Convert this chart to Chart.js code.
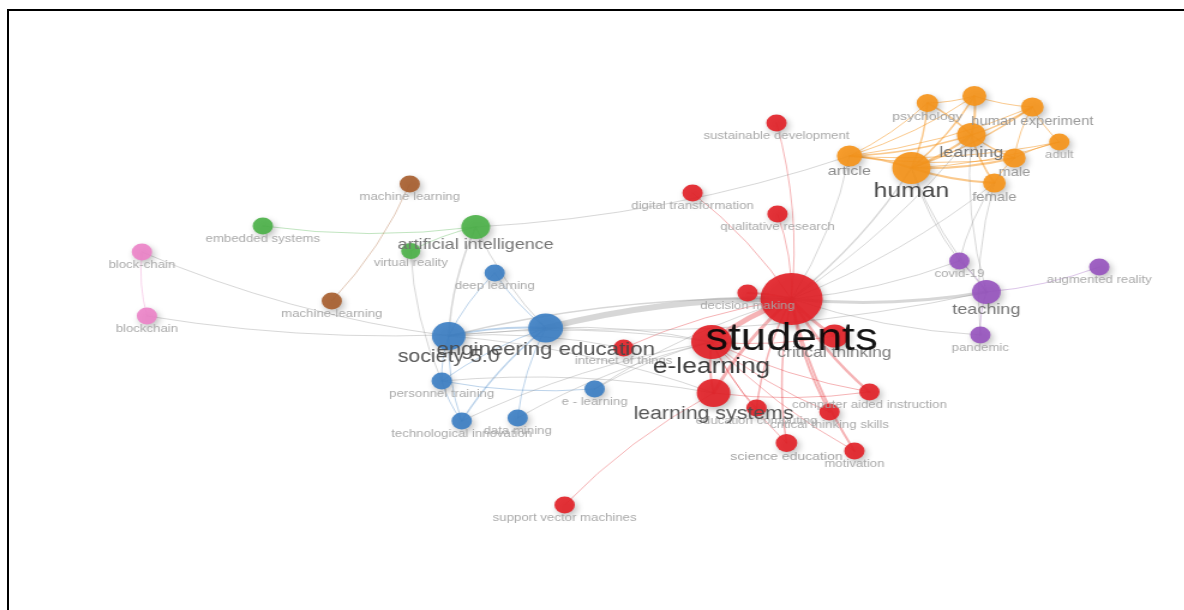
<!DOCTYPE html>
<html>
<head>
<meta charset="utf-8">
<script src="https://cdn.jsdelivr.net/npm/chart.js@4/dist/chart.umd.min.js"></script>
<style>
  html, body { margin: 0; padding: 0; background: #fff; width: 1184px; height: 610px; overflow: hidden; position: relative; }
  #frame { position: absolute; left: 7px; top: 9px; width: 1200px; height: 620px; border-top: 2px solid #000; border-left: 2px solid #000; }
  /* the map is drawn on a narrower canvas and widened, giving the oval nodes and wide lettering */
  #wrap { position: absolute; left: 0; top: 0; width: 986px; height: 610px; transform: scaleX(1.2); transform-origin: 0 0; }
</style>
</head>
<body>
<div id="frame"></div>
<div id="wrap"><canvas id="map"></canvas></div>
<script>
// ---- keyword co-occurrence network ----
const keywords = [
  'students', 'e-learning', 'learning systems', 'critical thinking', 'decision making',
  'education computing', 'computer aided instruction', 'critical thinking skills', 'science education', 'motivation',
  'internet of things', 'sustainable development', 'qualitative research', 'digital transformation', 'support vector machines',
  'human', 'article', 'learning', 'psychology', null,
  'human experiment', 'adult', 'male', 'female',
  'teaching', 'covid-19', 'pandemic', 'augmented reality',
  'artificial intelligence', 'embedded systems', 'virtual reality',
  'machine learning', 'machine-learning',
  'block-chain', 'blockchain',
  'engineering education', 'society 5.0', 'deep learning', 'personnel training', 'e - learning',
  'technological innovation', 'data mining'
];
const mapX = [792, 712, 714, 835, 748, 757, 870, 830, 787, 855, 624, 777, 778, 693, 565,
              912, 850, 972, 928, 975, 1033, 1060, 1015, 995,
              987, 960, 981, 1100,
              476, 263, 411,
              410, 332,
              142, 147,
              546, 449, 495, 442, 595, 462, 518];
const mapY = [299, 342, 393, 336, 293, 408, 392, 412, 443, 451, 348, 123, 214, 193, 505,
              168, 156, 135, 103, 96, 107, 142, 158, 183,
              292, 261, 335, 267,
              227, 226, 251,
              184, 301,
              252, 316,
              328, 336, 273, 381, 389, 421, 418];
const weights = [26, 17, 14, 11.5, 8.5, 8.5, 8.5, 8.5, 9, 8.5, 8.5, 8.5, 8.5, 8.5, 8.5,
                 16, 10.5, 12, 9, 10, 9.5, 8.5, 9.5, 9.5,
                 12, 8.5, 8.5, 8.5,
                 12, 8.5, 8,
                 8.5, 8.5,
                 8.5, 8.5,
                 14.5, 14, 8.5, 8.5, 8.5, 8.5, 8.5];
const clusterOf = [1, 1, 1, 1, 1, 1, 1, 1, 1, 1, 1, 1, 1, 1, 1,
                   2, 2, 2, 2, 2, 2, 2, 2, 2,
                   3, 3, 3, 3,
                   4, 4, 4,
                   5, 5,
                   6, 6,
                   7, 7, 7, 7, 7, 7, 7];
// links: [from, to, strength]
const links = [
  // cluster 1
  ['students', 'e-learning', 5], ['students', 'learning systems', 3], ['students', 'critical thinking', 3],
  ['students', 'decision making', 2], ['students', 'education computing', 1.5], ['students', 'computer aided instruction', 2.5],
  ['students', 'critical thinking skills', 2], ['students', 'science education', 1.5], ['students', 'motivation', 2],
  ['students', 'internet of things', 1], ['students', 'sustainable development', 1], ['students', 'qualitative research', 1],
  ['students', 'digital transformation', 1], ['e-learning', 'learning systems', 2], ['e-learning', 'science education', 1],
  ['e-learning', 'motivation', 1], ['e-learning', 'critical thinking skills', 1], ['e-learning', 'computer aided instruction', 1],
  ['learning systems', 'computer aided instruction', 1], ['learning systems', 'support vector machines', 1],
  ['e-learning', 'education computing', 1], ['e-learning', 'critical thinking', 1],
  // cluster 2
  ['human', 'article', 2], ['human', 'learning', 2], ['human', 'psychology', 1.5], ['human', 19, 1.5],
  ['human', 'human experiment', 1.5], ['human', 'adult', 1], ['human', 'male', 2], ['human', 'female', 2],
  ['article', 'learning', 1.5], ['article', 'psychology', 1], ['article', 19, 1], ['article', 'human experiment', 1],
  ['article', 'adult', 1], ['article', 'male', 1], ['learning', 'psychology', 1.5], ['learning', 19, 2],
  ['learning', 'human experiment', 1.5], ['learning', 'male', 1.5], ['learning', 'female', 1.5],
  ['psychology', 19, 1], [19, 'human experiment', 1], ['human experiment', 'male', 1], ['human experiment', 'adult', 1],
  ['male', 'female', 1], ['adult', 'male', 1],
  // cluster 3
  ['teaching', 'covid-19', 1], ['teaching', 'pandemic', 1], ['teaching', 'augmented reality', 1],
  // cluster 4, 5, 6
  ['embedded systems', 'artificial intelligence', 1], ['artificial intelligence', 'virtual reality', 1],
  ['machine-learning', 'machine learning', 1], ['block-chain', 'blockchain', 1],
  // cluster 7
  ['engineering education', 'society 5.0', 2], ['deep learning', 'society 5.0', 1], ['deep learning', 'engineering education', 1],
  ['society 5.0', 'personnel training', 1], ['society 5.0', 'technological innovation', 1],
  ['engineering education', 'technological innovation', 1.5], ['engineering education', 'data mining', 1],
  ['personnel training', 'e - learning', 1], ['personnel training', 'technological innovation', 1],
  ['engineering education', 'personnel training', 1],
  // between clusters
  ['students', 'engineering education', 6], ['students', 'society 5.0', 1.5], ['students', 'human', 1.5],
  ['students', 'learning', 1], ['students', 'female', 1], ['students', 'teaching', 3], ['students', 'covid-19', 1],
  ['students', 'pandemic', 1], ['students', 'article', 1], ['e-learning', 'engineering education', 1],
  ['e-learning', 'society 5.0', 1], ['learning systems', 'society 5.0', 1], ['learning systems', 'personnel training', 1],
  ['e-learning', 'data mining', 1], ['e-learning', 'technological innovation', 1], ['students', 'e - learning', 1],
  ['e-learning', 'e - learning', 1], ['human', 'teaching', 1], ['learning', 'teaching', 1], ['female', 'covid-19', 1],
  ['female', 'pandemic', 1], ['human', 'covid-19', 1], ['artificial intelligence', 'article', 1],
  ['block-chain', 'society 5.0', 1], ['blockchain', 'engineering education', 1],
  ['artificial intelligence', 'society 5.0', 1.5], ['artificial intelligence', 'engineering education', 1],
  ['virtual reality', 'personnel training', 1], ['engineering education', 'teaching', 1], ['internet of things', 'society 5.0', 1]
];

// ---- styling ----
const clusterRGB = {
  1: [226, 36, 42], 2: [245, 148, 28], 3: [152, 86, 190], 4: [78, 178, 74],
  5: [168, 96, 48], 6: [236, 132, 200], 7: [62, 128, 196]
};
const FONT = '"Liberation Sans", Arial, sans-serif';
const idx = k => (typeof k === 'number' ? k : keywords.indexOf(k));

function interp(v, xs, ys) {
  if (v <= xs[0]) return ys[0];
  for (let i = 1; i < xs.length; i++) {
    if (v <= xs[i]) return ys[i - 1] + (ys[i] - ys[i - 1]) * (v - xs[i - 1]) / (xs[i] - xs[i - 1]);
  }
  return ys[ys.length - 1];
}
const labelSize = w => interp(w, [8.5, 10, 12, 17, 26], [11, 13, 15, 22, 38]);
const labelShade = fs => Math.round(interp(fs, [11, 13, 15, 18, 22, 38], [165, 140, 110, 75, 50, 8]));

// one bubble dataset per cluster
const clusterIds = [...new Set(clusterOf)];
const datasets = clusterIds.map(c => {
  const pts = [];
  keywords.forEach((k, i) => {
    if (clusterOf[i] === c) pts.push({ x: mapX[i], y: mapY[i], r: weights[i] });
  });
  const [r, g, b] = clusterRGB[c];
  return {
    data: pts,
    backgroundColor: `rgba(${r},${g},${b},0.93)`,
    borderWidth: 0,
    hoverBorderWidth: 0,
    clip: false
  };
});

const networkPlugin = {
  id: 'network',
  beforeDatasetsDraw(chart) {
    const { ctx, scales: { x, y } } = chart;
    ctx.save();
    ctx.lineCap = 'round';
    links.forEach(([a, b, s]) => {
      const i = idx(a), j = idx(b);
      const x1 = x.getPixelForValue(mapX[i]), y1 = y.getPixelForValue(mapY[i]);
      const x2 = x.getPixelForValue(mapX[j]), y2 = y.getPixelForValue(mapY[j]);
      const dx = x2 - x1, dy = y2 - y1;
      const cx = (x1 + x2) / 2 - dy * 0.08, cy = (y1 + y2) / 2 + dx * 0.08;
      let col;
      if (clusterOf[i] === clusterOf[j]) {
        const [r, g, bl] = clusterRGB[clusterOf[i]];
        col = `rgba(${r},${g},${bl},${clusterOf[i] === 2 ? 0.5 : 0.35})`;
      } else {
        col = 'rgba(150,150,150,0.38)';
      }
      ctx.strokeStyle = col;
      ctx.lineWidth = s;
      ctx.beginPath();
      ctx.moveTo(x1, y1);
      ctx.quadraticCurveTo(cx, cy, x2, y2);
      ctx.stroke();
    });
    ctx.restore();
  },
  beforeDatasetDraw(chart) {
    const ctx = chart.ctx;
    ctx.save();
    ctx.shadowColor = 'rgba(0,0,0,0.28)';
    ctx.shadowBlur = 6;
    ctx.shadowOffsetX = 2;
    ctx.shadowOffsetY = 3;
  },
  afterDatasetDraw(chart) {
    chart.ctx.restore();
  },
  afterDatasetsDraw(chart) {
    const { ctx, scales: { x, y } } = chart;
    ctx.save();
    ctx.textAlign = 'center';
    ctx.textBaseline = 'alphabetic';
    const order = keywords.map((k, i) => i).sort((a, b) => weights[a] - weights[b]);
    order.forEach(i => {
      if (!keywords[i]) return;
      const fs = labelSize(weights[i]);
      const shade = labelShade(fs);
      ctx.font = `${fs.toFixed(1)}px ${FONT}`;
      ctx.fillStyle = `rgba(${shade},${shade},${shade},0.95)`;
      const px = x.getPixelForValue(mapX[i]);
      const py = y.getPixelForValue(mapY[i]) + weights[i] + fs * 0.65;
      ctx.fillText(keywords[i], px, py);
    });
    ctx.restore();
  }
};

new Chart(document.getElementById('map'), {
  type: 'bubble',
  data: { datasets },
  options: {
    responsive: true,
    maintainAspectRatio: false,
    animation: false,
    layout: { padding: 0, autoPadding: false },
    scales: {
      x: { type: 'linear', min: 0, max: 1184, display: false },
      y: { type: 'linear', min: 0, max: 610, reverse: true, display: false }
    },
    plugins: { legend: { display: false }, tooltip: { enabled: false } },
    events: []
  },
  plugins: [networkPlugin]
});
</script>
</body>
</html>
